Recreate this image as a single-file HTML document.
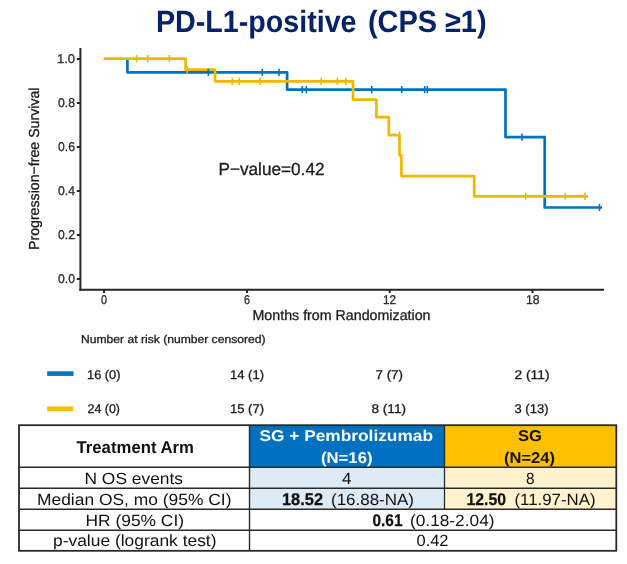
<!DOCTYPE html>
<html><head><meta charset="utf-8">
<style>
html,body{margin:0;padding:0;background:#fff;width:627px;height:564px;overflow:hidden}
svg{display:block;will-change:transform}
text{font-family:"Liberation Sans",sans-serif;text-rendering:geometricPrecision}
</style></head>
<body>
<svg width="627" height="564" viewBox="0 0 627 564">
<!-- Axes -->
<g stroke="#262626" fill="none">
  <line x1="80.4" y1="48" x2="80.4" y2="290.8" stroke-width="2"/>
  <line x1="79.4" y1="289.8" x2="604" y2="289.8" stroke-width="2"/>
  <g stroke-width="2">
  <line x1="76.8" y1="59" x2="80" y2="59"/>
  <line x1="76.8" y1="103" x2="80" y2="103"/>
  <line x1="76.8" y1="147" x2="80" y2="147"/>
  <line x1="76.8" y1="191" x2="80" y2="191"/>
  <line x1="76.8" y1="235" x2="80" y2="235"/>
  <line x1="76.8" y1="279" x2="80" y2="279"/>
  <line x1="104" y1="290" x2="104" y2="293"/>
  <line x1="247" y1="290" x2="247" y2="293"/>
  <line x1="389.7" y1="290" x2="389.7" y2="293"/>
  <line x1="532.5" y1="290" x2="532.5" y2="293"/>
  </g>
</g>
<!-- Curves -->
<g fill="none" stroke-width="2.7" stroke-linejoin="round" stroke-linecap="butt">
  <polyline stroke="#0072c2" points="127.4,58.6 127.4,72.3 287.1,72.3 287.1,89.6 505.5,89.6 505.5,137.1 544.7,137.1 544.7,207.5 602,207.5"/>
  <polyline stroke="#f2b800" points="103.6,58.6 185.6,58.6 185.6,69.7 215,69.7 215,81.3 353,81.3 353,99.6 376.4,99.6 376.4,117.1 388.8,117.1 388.8,135.1 399.5,135.1 399.5,155.3 401.4,155.3 401.4,176.1 474.2,176.1 474.2,196.3 588,196.3"/>
</g>
<!-- Censor marks -->
<g stroke="#0072c2" stroke-width="1.6">
  <line x1="208.3" y1="68.7" x2="208.3" y2="76"/>
  <line x1="262.3" y1="68.7" x2="262.3" y2="76"/>
  <line x1="279" y1="68.7" x2="279" y2="76"/>
  <line x1="302.3" y1="86" x2="302.3" y2="93.2"/>
  <line x1="306.3" y1="86" x2="306.3" y2="93.2"/>
  <line x1="371.8" y1="86" x2="371.8" y2="93.2"/>
  <line x1="401.7" y1="86" x2="401.7" y2="93.2"/>
  <line x1="424.7" y1="86" x2="424.7" y2="93.2"/>
  <line x1="427.3" y1="86" x2="427.3" y2="93.2"/>
  <line x1="522" y1="133.5" x2="522" y2="140.7"/>
  <line x1="599.5" y1="203.9" x2="599.5" y2="211.1"/>
</g>
<g stroke="#f2b800" stroke-width="1.6">
  <line x1="136.6" y1="55" x2="136.6" y2="62.2"/>
  <line x1="147.7" y1="55" x2="147.7" y2="62.2"/>
  <line x1="169.3" y1="55" x2="169.3" y2="62.2"/>
  <line x1="187.2" y1="66.1" x2="187.2" y2="73.3"/>
  <line x1="232.2" y1="77.7" x2="232.2" y2="84.9"/>
  <line x1="239.2" y1="77.7" x2="239.2" y2="84.9"/>
  <line x1="260.2" y1="77.7" x2="260.2" y2="84.9"/>
  <line x1="321.2" y1="77.7" x2="321.2" y2="84.9"/>
  <line x1="337.3" y1="77.7" x2="337.3" y2="84.9"/>
  <line x1="345.9" y1="77.7" x2="345.9" y2="84.9"/>
  <line x1="399.5" y1="131.5" x2="399.5" y2="138.7"/>
  <line x1="525.7" y1="192.7" x2="525.7" y2="199.9"/>
  <line x1="565.3" y1="192.7" x2="565.3" y2="199.9"/>
  <line x1="585" y1="192.7" x2="585" y2="199.9"/>
</g>
<!-- risk legend bars -->
<rect x="47.2" y="371.3" width="26.3" height="4.6" fill="#0072c2"/>
<rect x="47.2" y="406.4" width="26" height="4.8" fill="#f5bf00"/>
<!-- Table fills -->
<rect x="249.5" y="425" width="195" height="42" fill="#0070c0"/>
<rect x="444.5" y="425" width="172" height="42" fill="#ffc000"/>
<rect x="249.5" y="467" width="195" height="42.3" fill="#ddebf7"/>
<rect x="444.5" y="467" width="172" height="42.3" fill="#fff2cc"/>
<g stroke="#2a2a2a" fill="none">
  <rect x="19" y="425.2" width="597.3" height="125.6" stroke-width="1.8"/>
  <line x1="19" y1="467.2" x2="616" y2="467.2" stroke-width="1.5"/>
  <line x1="19" y1="488.3" x2="616" y2="488.3" stroke-width="1.4"/>
  <line x1="19" y1="509.3" x2="616" y2="509.3" stroke-width="1.4"/>
  <line x1="19" y1="530.3" x2="616" y2="530.3" stroke-width="1.4"/>
  <line x1="249.5" y1="425" x2="249.5" y2="551" stroke-width="1.4"/>
  <line x1="444.5" y1="425" x2="444.5" y2="509.3" stroke-width="1.3"/>
</g>

<text x="156.0" y="32.1" font-size="30.8" font-weight="bold" fill="#062369" textLength="200.5" lengthAdjust="spacingAndGlyphs">PD-L1-positive</text>
<text x="368.0" y="32.1" font-size="30.8" font-weight="bold" fill="#062369" textLength="118.5" lengthAdjust="spacingAndGlyphs">(CPS ≥1)</text>
<text stroke="#2a2a2a" stroke-width="0.3" x="57.0" y="63.4" font-size="12.8" font-weight="normal" fill="#2a2a2a" textLength="18.0" lengthAdjust="spacingAndGlyphs">1.0</text>
<text stroke="#2a2a2a" stroke-width="0.3" x="58.0" y="107.4" font-size="12.8" font-weight="normal" fill="#2a2a2a" textLength="17.0" lengthAdjust="spacingAndGlyphs">0.8</text>
<text stroke="#2a2a2a" stroke-width="0.3" x="58.0" y="151.4" font-size="12.8" font-weight="normal" fill="#2a2a2a" textLength="17.0" lengthAdjust="spacingAndGlyphs">0.6</text>
<text stroke="#2a2a2a" stroke-width="0.3" x="58.0" y="195.4" font-size="12.8" font-weight="normal" fill="#2a2a2a" textLength="17.0" lengthAdjust="spacingAndGlyphs">0.4</text>
<text stroke="#2a2a2a" stroke-width="0.3" x="58.0" y="239.4" font-size="12.8" font-weight="normal" fill="#2a2a2a" textLength="17.0" lengthAdjust="spacingAndGlyphs">0.2</text>
<text stroke="#2a2a2a" stroke-width="0.3" x="58.0" y="283.4" font-size="12.8" font-weight="normal" fill="#2a2a2a" textLength="17.0" lengthAdjust="spacingAndGlyphs">0.0</text>
<text stroke="#2a2a2a" stroke-width="0.3" x="101.0" y="304.2" font-size="12.8" font-weight="normal" fill="#2a2a2a" textLength="6.0" lengthAdjust="spacingAndGlyphs">0</text>
<text stroke="#2a2a2a" stroke-width="0.3" x="244.0" y="304.2" font-size="12.8" font-weight="normal" fill="#2a2a2a" textLength="6.0" lengthAdjust="spacingAndGlyphs">6</text>
<text stroke="#2a2a2a" stroke-width="0.3" x="383.0" y="304.2" font-size="12.8" font-weight="normal" fill="#2a2a2a" textLength="13.0" lengthAdjust="spacingAndGlyphs">12</text>
<text stroke="#2a2a2a" stroke-width="0.3" x="526.0" y="304.2" font-size="12.8" font-weight="normal" fill="#2a2a2a" textLength="13.5" lengthAdjust="spacingAndGlyphs">18</text>
<text stroke="#1a1a1a" stroke-width="0.3" x="252.5" y="319.9" font-size="14.2" font-weight="normal" fill="#1a1a1a" textLength="178.0" lengthAdjust="spacingAndGlyphs">Months from Randomization</text>
<text stroke="#1a1a1a" stroke-width="0.3" x="218.5" y="174.8" font-size="17.5" font-weight="normal" fill="#1a1a1a" textLength="106.0" lengthAdjust="spacingAndGlyphs">P−value=0.42</text>
<text stroke="#1a1a1a" stroke-width="0.3" x="81.0" y="343.4" font-size="11.3" font-weight="normal" fill="#1a1a1a" textLength="184.5" lengthAdjust="spacingAndGlyphs">Number at risk (number censored)</text>
<text stroke="#1a1a1a" stroke-width="0.3" x="87.0" y="378.7" font-size="12.6" font-weight="normal" fill="#1a1a1a" textLength="33.5" lengthAdjust="spacingAndGlyphs">16 (0)</text>
<text stroke="#1a1a1a" stroke-width="0.3" x="230.0" y="378.7" font-size="12.6" font-weight="normal" fill="#1a1a1a" textLength="34.0" lengthAdjust="spacingAndGlyphs">14 (1)</text>
<text stroke="#1a1a1a" stroke-width="0.3" x="375.5" y="378.7" font-size="12.6" font-weight="normal" fill="#1a1a1a" textLength="27.5" lengthAdjust="spacingAndGlyphs">7 (7)</text>
<text stroke="#1a1a1a" stroke-width="0.3" x="514.5" y="378.7" font-size="12.6" font-weight="normal" fill="#1a1a1a" textLength="35.0" lengthAdjust="spacingAndGlyphs">2 (11)</text>
<text stroke="#1a1a1a" stroke-width="0.3" x="87.5" y="413.4" font-size="12.6" font-weight="normal" fill="#1a1a1a" textLength="32.5" lengthAdjust="spacingAndGlyphs">24 (0)</text>
<text stroke="#1a1a1a" stroke-width="0.3" x="230.0" y="413.4" font-size="12.6" font-weight="normal" fill="#1a1a1a" textLength="34.0" lengthAdjust="spacingAndGlyphs">15 (7)</text>
<text stroke="#1a1a1a" stroke-width="0.3" x="371.5" y="413.4" font-size="12.6" font-weight="normal" fill="#1a1a1a" textLength="34.5" lengthAdjust="spacingAndGlyphs">8 (11)</text>
<text stroke="#1a1a1a" stroke-width="0.3" x="514.5" y="413.4" font-size="12.6" font-weight="normal" fill="#1a1a1a" textLength="34.0" lengthAdjust="spacingAndGlyphs">3 (13)</text>
<text x="76.5" y="452.7" font-size="17" font-weight="bold" fill="#111" textLength="117.5" lengthAdjust="spacingAndGlyphs">Treatment Arm</text>
<text x="84.5" y="483.5" font-size="16.2" font-weight="normal" fill="#111" textLength="98.5" lengthAdjust="spacingAndGlyphs">N OS events</text>
<text x="37.0" y="504.7" font-size="16.2" font-weight="normal" fill="#111" textLength="194.5" lengthAdjust="spacingAndGlyphs">Median OS, mo (95% CI)</text>
<text x="85.5" y="525.7" font-size="16.2" font-weight="normal" fill="#111" textLength="98.5" lengthAdjust="spacingAndGlyphs">HR (95% CI)</text>
<text x="53.0" y="545.9" font-size="16.2" font-weight="normal" fill="#111" textLength="163.5" lengthAdjust="spacingAndGlyphs">p-value (logrank test)</text>
<text x="342.0" y="483.5" font-size="16.2" font-weight="normal" fill="#111" textLength="9.5" lengthAdjust="spacingAndGlyphs">4</text>
<text x="526.0" y="483.5" font-size="16.2" font-weight="normal" fill="#111" textLength="8.5" lengthAdjust="spacingAndGlyphs">8</text>
<text stroke="#111" stroke-width="0.25" x="282.0" y="504.7" font-size="17" font-weight="bold" fill="#111" textLength="41.0" lengthAdjust="spacingAndGlyphs">18.52</text>
<text x="331.0" y="504.7" font-size="16.2" font-weight="normal" fill="#111" textLength="83.0" lengthAdjust="spacingAndGlyphs">(16.88-NA)</text>
<text stroke="#111" stroke-width="0.25" x="466.5" y="504.7" font-size="17" font-weight="bold" fill="#111" textLength="39.5" lengthAdjust="spacingAndGlyphs">12.50</text>
<text x="514.5" y="504.7" font-size="16.2" font-weight="normal" fill="#111" textLength="81.0" lengthAdjust="spacingAndGlyphs">(11.97-NA)</text>
<text stroke="#111" stroke-width="0.25" x="372.5" y="525.7" font-size="17" font-weight="bold" fill="#111" textLength="30.0" lengthAdjust="spacingAndGlyphs">0.61</text>
<text x="410.0" y="525.7" font-size="16.2" font-weight="normal" fill="#111" textLength="84.5" lengthAdjust="spacingAndGlyphs">(0.18-2.04)</text>
<text x="416.5" y="546.0" font-size="16.2" font-weight="normal" fill="#111" textLength="32.0" lengthAdjust="spacingAndGlyphs">0.42</text>
<text x="259.5" y="441.3" font-size="15.6" font-weight="bold" fill="#fff" textLength="173.5" lengthAdjust="spacingAndGlyphs">SG + Pembrolizumab</text>
<text x="321.0" y="462.8" font-size="15.6" font-weight="bold" fill="#fff" textLength="51.5" lengthAdjust="spacingAndGlyphs">(N=16)</text>
<text x="518.0" y="441.3" font-size="15.6" font-weight="bold" fill="#111" textLength="24.0" lengthAdjust="spacingAndGlyphs">SG</text>
<text x="504.0" y="462.8" font-size="15.6" font-weight="bold" fill="#111" textLength="51.0" lengthAdjust="spacingAndGlyphs">(N=24)</text>
<text transform="translate(38.9,338) rotate(-90)" stroke="#1a1a1a" stroke-width="0.3" x="88.0" y="0" font-size="14.5" font-weight="normal" fill="#1a1a1a" textLength="162.5" lengthAdjust="spacingAndGlyphs">Progression−free Survival</text>
</svg>
</body></html>
